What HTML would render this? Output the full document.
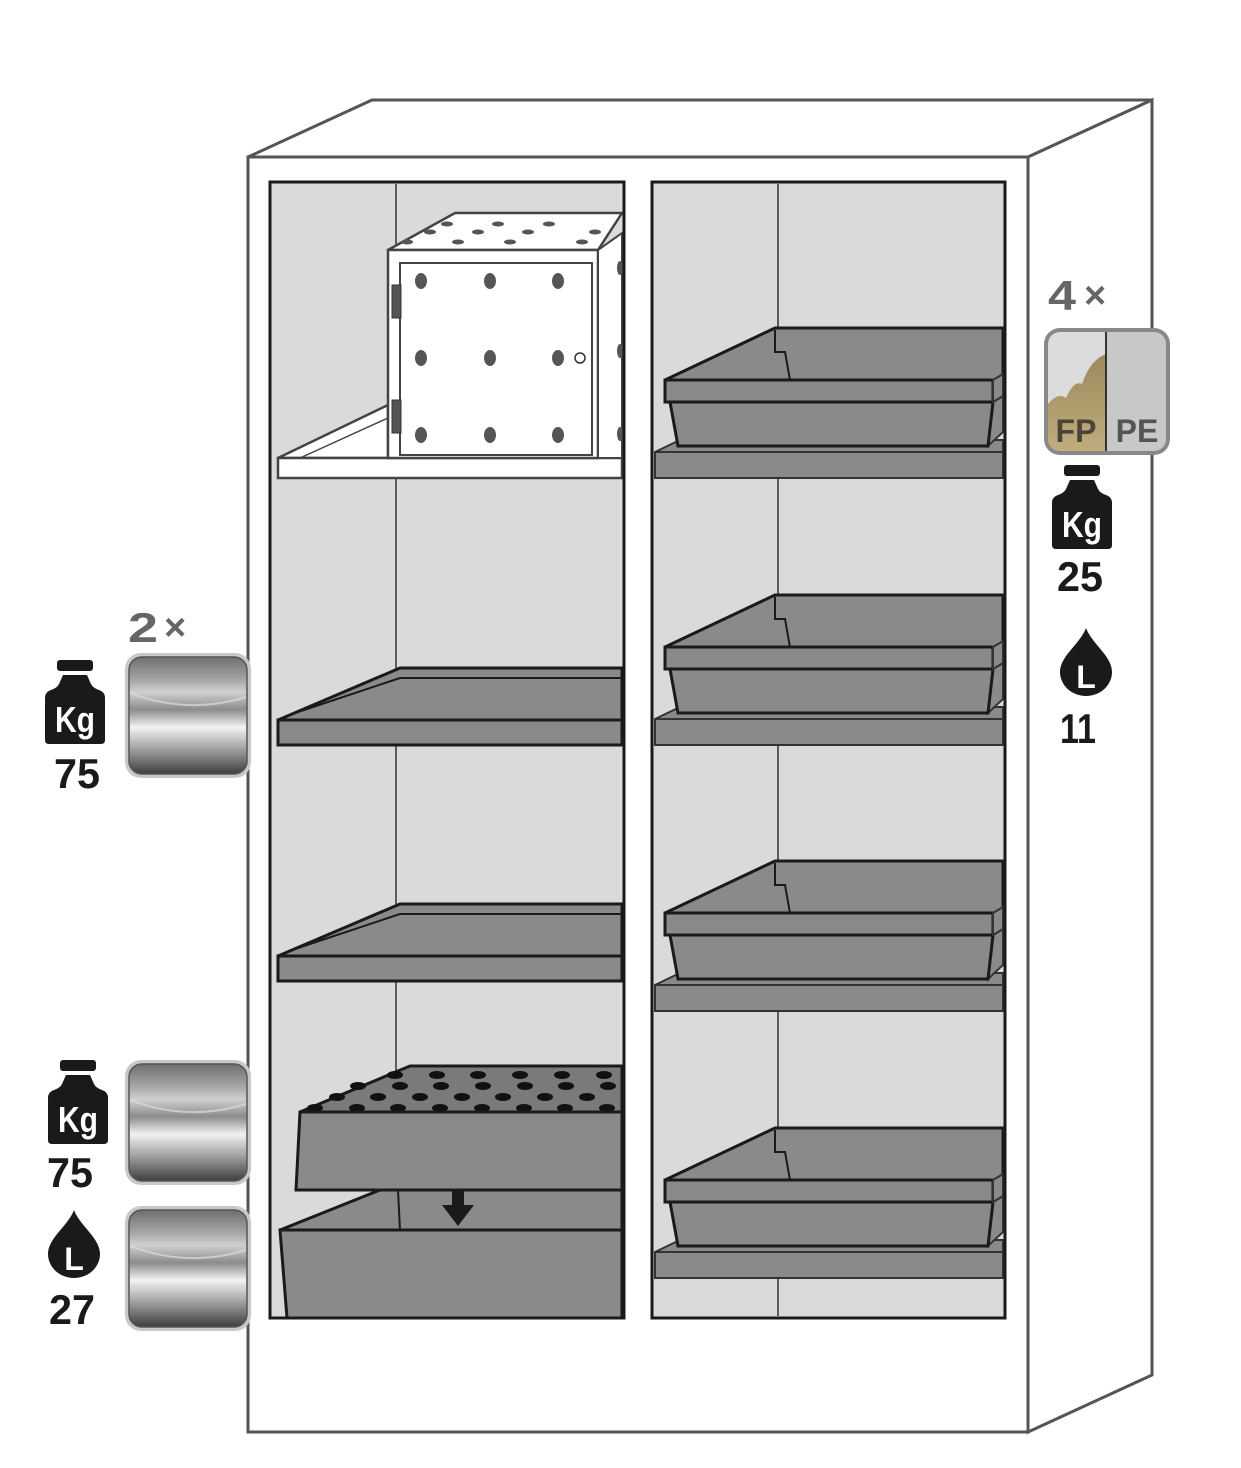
<!DOCTYPE html>
<html><head><meta charset="utf-8"><style>html,body{margin:0;padding:0;background:#fff}svg{display:block}</style></head><body>
<svg width="1241" height="1468" viewBox="0 0 1241 1468" xmlns="http://www.w3.org/2000/svg" font-family="Liberation Sans, sans-serif">
<defs>
<linearGradient id="chrome" x1="0" y1="0" x2="0" y2="1">
<stop offset="0" stop-color="#6f6f6f"/><stop offset="0.2" stop-color="#a8a8a8"/><stop offset="0.3" stop-color="#d0d0d0"/><stop offset="0.45" stop-color="#8c8c8c"/><stop offset="0.6" stop-color="#f2f2f2"/><stop offset="0.8" stop-color="#9a9a9a"/><stop offset="1" stop-color="#3e3e3e"/>
</linearGradient>
<linearGradient id="gold" x1="0" y1="0" x2="0" y2="1"><stop offset="0" stop-color="#9c8a5c"/><stop offset="1" stop-color="#c0ac7c"/></linearGradient>
<clipPath id="tclip"><rect x="1048" y="332" width="118" height="119" rx="12"/></clipPath>
<g id="kg">
<rect x="12" y="0" width="36" height="11" rx="3" fill="#1a1a1a"/>
<path d="M18,15 H42 L46,24 Q48,28 54,30 Q60,32 60,38 V80 Q60,84 56,84 H4 Q0,84 0,80 V38 Q0,32 6,30 Q12,28 14,24 Z" fill="#1a1a1a"/>
<text x="30" y="72" font-size="36" font-weight="bold" fill="#fff" text-anchor="middle" textLength="40" lengthAdjust="spacingAndGlyphs">Kg</text>
</g>
<g id="drop">
<path d="M0,0 C6,16 26,28 26,44 A26,24 0 0 1 -26,44 C-26,28 -6,16 0,0 Z" fill="#1a1a1a"/>
<text x="0" y="60" font-size="32" font-weight="bold" fill="#fff" text-anchor="middle">L</text>
</g>
<g id="tile">
<rect x="0" y="0" width="126" height="125" rx="16" fill="#c8c8c8"/>
<rect x="4" y="4" width="118" height="117" rx="13" fill="url(#chrome)" stroke="#555" stroke-width="1.5"/>
<path d="M5,40 Q63,62 121,44" fill="none" stroke="#ddd" stroke-width="2" opacity="0.7"/>
</g>
<g id="rtray">
<polygon points="665,52 775,0 1003,0 1003,52" fill="#8a8a8a" stroke="#1a1a1a" stroke-width="3"/>
<polyline points="775,2 775,24 785,24 790,52" fill="none" stroke="#1a1a1a" stroke-width="2"/>
<polygon points="655,124 680,112 1003,112 1003,150 655,150" fill="#8a8a8a" stroke="#333" stroke-width="2"/>
<line x1="655" y1="124" x2="1003" y2="124" stroke="#333" stroke-width="2"/>
<polygon points="993,74 1003,68 1003,104 988,118" fill="#8a8a8a" stroke="#333" stroke-width="2"/>
<polygon points="670,74 993,74 988,118 678,118" fill="#8a8a8a" stroke="#1a1a1a" stroke-width="3"/>
<rect x="665" y="52" width="328" height="22" fill="#8a8a8a" stroke="#1a1a1a" stroke-width="3"/>
<polygon points="993,52 1003,46 1003,68 993,74" fill="#8a8a8a" stroke="#333" stroke-width="2"/>
</g>
<g id="ltray">
<polygon points="278,52 400,0 622,0 622,52" fill="#8a8a8a" stroke="#1a1a1a" stroke-width="3"/>
<polyline points="298,44 400,10 622,10" fill="none" stroke="#1a1a1a" stroke-width="2"/>
<rect x="278" y="52" width="344" height="25" fill="#8a8a8a" stroke="#1a1a1a" stroke-width="3"/>
</g>
</defs>

<polygon points="248,157 372,100 1152,100 1028,157" fill="#fff" stroke="#555" stroke-width="3"/>
<polygon points="1028,157 1152,100 1152,1375 1028,1432" fill="#fff" stroke="#555" stroke-width="3"/>
<rect x="248" y="157" width="780" height="1275" fill="#fff" stroke="#555" stroke-width="3"/>

<rect x="270" y="182" width="354" height="1136" fill="#dadada" stroke="#1a1a1a" stroke-width="3"/>
<line x1="396" y1="184" x2="396" y2="1316" stroke="#333" stroke-width="1.5"/>
<rect x="652" y="182" width="353" height="1136" fill="#dadada" stroke="#1a1a1a" stroke-width="3"/>
<line x1="778" y1="184" x2="778" y2="1316" stroke="#333" stroke-width="1.5"/>

<use href="#rtray" y="328"/>
<use href="#rtray" y="595"/>
<use href="#rtray" y="861"/>
<use href="#rtray" y="1128"/>

<polygon points="278,458 388,405 388,458" fill="#fff" stroke="#444" stroke-width="2.5"/>
<line x1="300" y1="458" x2="388" y2="418" stroke="#444" stroke-width="1.5"/>
<rect x="278" y="458" width="344" height="20" fill="#fff" stroke="#444" stroke-width="2.5"/>
<polygon points="388,250 455,213 622,213 598,250" fill="#fff" stroke="#444" stroke-width="2.5"/>
<rect x="388" y="250" width="210" height="208" fill="#fff" stroke="#444" stroke-width="2.5"/>
<polygon points="598,250 622,233 622,458 598,458" fill="#fff" stroke="#444" stroke-width="2"/>
<rect x="400" y="263" width="192" height="192" fill="#fff" stroke="#444" stroke-width="2"/>
<rect x="392" y="285" width="9" height="33" fill="#555" stroke="#333"/>
<rect x="392" y="400" width="9" height="33" fill="#555" stroke="#333"/>
<g fill="#555">
<ellipse cx="421" cy="281" rx="6" ry="8"/><ellipse cx="490" cy="281" rx="6" ry="8"/><ellipse cx="558" cy="281" rx="6" ry="8"/>
<ellipse cx="421" cy="358" rx="6" ry="8"/><ellipse cx="490" cy="358" rx="6" ry="8"/><ellipse cx="558" cy="358" rx="6" ry="8"/>
<ellipse cx="421" cy="435" rx="6" ry="8"/><ellipse cx="490" cy="435" rx="6" ry="8"/><ellipse cx="558" cy="435" rx="6" ry="8"/>
<ellipse cx="620" cy="268" rx="3" ry="7"/><ellipse cx="620" cy="351" rx="3" ry="7"/><ellipse cx="620" cy="434" rx="3" ry="7"/>
<ellipse cx="407" cy="242" rx="6" ry="2.5"/><ellipse cx="430" cy="232" rx="6" ry="2.5"/>
<ellipse cx="447" cy="224" rx="6" ry="2.5"/><ellipse cx="458" cy="242" rx="6" ry="2.5"/><ellipse cx="478" cy="232" rx="6" ry="2.5"/>
<ellipse cx="498" cy="224" rx="6" ry="2.5"/><ellipse cx="510" cy="242" rx="6" ry="2.5"/><ellipse cx="528" cy="232" rx="6" ry="2.5"/>
<ellipse cx="549" cy="224" rx="6" ry="2.5"/><ellipse cx="582" cy="242" rx="6" ry="2.5"/><ellipse cx="595" cy="232" rx="6" ry="2.5"/>
</g>
<circle cx="580" cy="358" r="5" fill="#fff" stroke="#333" stroke-width="1.5"/>

<use href="#ltray" y="668"/>
<use href="#ltray" y="904"/>

<polygon points="280,1230 380,1190 622,1190 622,1230" fill="#8a8a8a" stroke="#1a1a1a" stroke-width="3"/>
<line x1="398" y1="1190" x2="400" y2="1230" stroke="#1a1a1a" stroke-width="2"/>
<polygon points="280,1230 622,1230 622,1318 287,1318" fill="#8a8a8a" stroke="#1a1a1a" stroke-width="3"/>
<polygon points="300,1112 410,1066 622,1066 622,1112" fill="#7a7a7a" stroke="#1a1a1a" stroke-width="3"/>
<g fill="#111">
<ellipse cx="395" cy="1075" rx="8" ry="4"/><ellipse cx="437" cy="1075" rx="8" ry="4"/><ellipse cx="478" cy="1075" rx="8" ry="4"/><ellipse cx="520" cy="1075" rx="8" ry="4"/><ellipse cx="562" cy="1075" rx="8" ry="4"/><ellipse cx="604" cy="1075" rx="8" ry="4"/>
<ellipse cx="358" cy="1086" rx="8" ry="4"/><ellipse cx="400" cy="1086" rx="8" ry="4"/><ellipse cx="441" cy="1086" rx="8" ry="4"/><ellipse cx="483" cy="1086" rx="8" ry="4"/><ellipse cx="525" cy="1086" rx="8" ry="4"/><ellipse cx="566" cy="1086" rx="8" ry="4"/><ellipse cx="608" cy="1086" rx="8" ry="4"/>
<ellipse cx="337" cy="1097" rx="8" ry="4"/><ellipse cx="378" cy="1097" rx="8" ry="4"/><ellipse cx="420" cy="1097" rx="8" ry="4"/><ellipse cx="462" cy="1097" rx="8" ry="4"/><ellipse cx="503" cy="1097" rx="8" ry="4"/><ellipse cx="545" cy="1097" rx="8" ry="4"/><ellipse cx="587" cy="1097" rx="8" ry="4"/>
<ellipse cx="315" cy="1108" rx="8" ry="4"/><ellipse cx="357" cy="1108" rx="8" ry="4"/><ellipse cx="398" cy="1108" rx="8" ry="4"/><ellipse cx="440" cy="1108" rx="8" ry="4"/><ellipse cx="482" cy="1108" rx="8" ry="4"/><ellipse cx="524" cy="1108" rx="8" ry="4"/><ellipse cx="565" cy="1108" rx="8" ry="4"/><ellipse cx="607" cy="1108" rx="8" ry="4"/>
</g>
<polygon points="300,1112 622,1112 622,1190 296,1190" fill="#8a8a8a" stroke="#1a1a1a" stroke-width="3"/>
<polygon points="452,1190 464,1190 464,1205 474,1205 458,1226 442,1205 452,1205" fill="#1a1a1a"/>
<rect x="270" y="182" width="354" height="1136" fill="none" stroke="#1a1a1a" stroke-width="3"/>
<rect x="652" y="182" width="353" height="1136" fill="none" stroke="#1a1a1a" stroke-width="3"/>

<text x="128" y="642" font-size="42" font-weight="bold" fill="#666" textLength="30" lengthAdjust="spacingAndGlyphs">2</text>
<text x="164" y="640" font-size="38" font-weight="bold" fill="#666">×</text>
<use href="#tile" x="125" y="653"/>
<use href="#kg" x="45" y="660"/>
<text x="77" y="788" font-size="42" font-weight="bold" fill="#1a1a1a" text-anchor="middle" textLength="46" lengthAdjust="spacingAndGlyphs">75</text>
<use href="#tile" x="125" y="1060"/>
<use href="#tile" x="125" y="1206"/>
<use href="#kg" x="48" y="1060"/>
<text x="70" y="1187" font-size="42" font-weight="bold" fill="#1a1a1a" text-anchor="middle" textLength="46" lengthAdjust="spacingAndGlyphs">75</text>
<use href="#drop" x="74" y="1210"/>
<text x="72" y="1324" font-size="42" font-weight="bold" fill="#1a1a1a" text-anchor="middle" textLength="46" lengthAdjust="spacingAndGlyphs">27</text>

<text x="1048" y="310" font-size="42" font-weight="bold" fill="#666" textLength="28" lengthAdjust="spacingAndGlyphs">4</text>
<text x="1084" y="308" font-size="38" font-weight="bold" fill="#666">×</text>
<rect x="1044" y="328" width="126" height="127" rx="16" fill="#888"/>
<g clip-path="url(#tclip)">
<rect x="1048" y="332" width="58" height="119" fill="#dcdcdc"/>
<path d="M1048,404 Q1058,392 1066,398 Q1074,380 1082,384 Q1090,360 1106,354 V451 H1048 Z" fill="url(#gold)"/>
<rect x="1106" y="332" width="60" height="119" fill="#c8c8c8"/>
</g>
<line x1="1106" y1="332" x2="1106" y2="451" stroke="#333" stroke-width="2"/>
<text x="1076" y="442" font-size="32" font-weight="bold" fill="#4a4538" text-anchor="middle">FP</text>
<text x="1137" y="442" font-size="32" font-weight="bold" fill="#555" text-anchor="middle">PE</text>
<use href="#kg" x="1052" y="465"/>
<text x="1080" y="591" font-size="42" font-weight="bold" fill="#1a1a1a" text-anchor="middle" textLength="46" lengthAdjust="spacingAndGlyphs">25</text>
<use href="#drop" x="1086" y="628"/>
<text x="1078" y="743" font-size="42" font-weight="bold" fill="#1a1a1a" text-anchor="middle" textLength="36" lengthAdjust="spacingAndGlyphs">11</text>
</svg>
</body></html>
